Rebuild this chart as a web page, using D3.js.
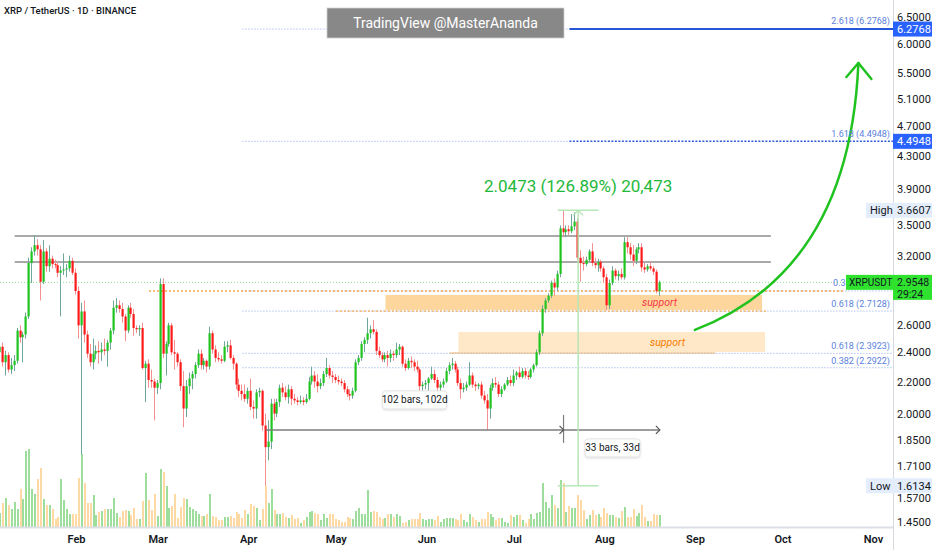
<!DOCTYPE html>
<html><head><meta charset="utf-8">
<script src="https://cdn.jsdelivr.net/npm/d3@7"></script>
<style>
body{margin:0;background:#fff;}
text{font-family:Roboto,"Liberation Sans",Arial,sans-serif;}
</style>
</head><body>
<svg id="c" width="932" height="550"></svg>
<script>
// ---------------- DATA ----------------
const startDate = "2025-01-06";
const opens = [2.40,2.44,2.33,2.38,2.28,2.31,2.34,2.56,2.51,2.53,
2.67,3.13,3.24,3.30,3.26,2.96,3.24,3.10,3.17,3.12,
3.11,3.04,3.06,3.07,3.08,3.15,3.04,2.88,2.60,2.71,
2.53,2.39,2.33,2.39,2.41,2.40,2.42,2.41,2.47,2.56,
2.74,2.76,2.73,2.67,2.56,2.74,2.69,2.58,2.57,2.58,
2.29,2.32,2.21,2.20,2.16,2.19,2.94,2.39,2.46,2.60,
2.40,2.39,2.33,2.17,2.03,2.17,2.22,2.25,2.31,2.39,
2.31,2.34,2.30,2.54,2.42,2.36,2.35,2.34,2.44,2.45,
2.36,2.32,2.18,2.14,2.12,2.09,2.14,2.04,2.03,2.13,
2.14,1.93,1.81,1.84,2.06,2.00,2.07,2.16,2.13,2.10,
2.15,2.09,2.08,2.07,2.08,2.07,2.09,2.20,2.24,2.20,
2.17,2.19,2.25,2.29,2.24,2.23,2.21,2.20,2.19,2.15,
2.12,2.11,2.14,2.33,2.36,2.46,2.49,2.54,2.57,2.55,
2.41,2.38,2.35,2.38,2.36,2.39,2.38,2.42,2.44,2.32,
2.29,2.34,2.33,2.30,2.28,2.17,2.18,2.19,2.22,2.25,
2.21,2.16,2.18,2.20,2.27,2.31,2.32,2.28,2.19,2.15,
2.16,2.18,2.24,2.18,2.17,2.18,2.11,2.08,2.03,2.16,
2.19,2.18,2.12,2.15,2.18,2.21,2.19,2.24,2.26,2.23,
2.27,2.24,2.23,2.28,2.31,2.40,2.54,2.73,2.80,2.84,
2.95,2.91,3.03,3.47,3.43,3.46,3.44,3.49,3.54,3.18,
3.13,3.12,3.16,3.24,3.13,3.11,3.14,3.08,3.00,2.76,
2.95,3.06,3.01,3.03,3.00,3.33,3.28,3.21,3.15,3.26,
3.28,3.09,3.07,3.10,3.08,3.05,2.88];
const highs = [2.48,2.47,2.41,2.40,2.36,2.38,2.58,2.60,2.55,2.70,
3.18,3.28,3.40,3.36,3.30,3.35,3.27,3.30,3.20,3.16,
3.14,3.10,3.22,3.12,3.20,3.18,3.08,2.92,2.78,2.80,
2.56,2.46,2.50,2.45,2.48,2.47,2.50,2.49,2.58,2.80,
2.82,2.80,2.78,2.69,2.76,2.78,2.73,2.60,2.60,2.62,
2.34,2.35,2.28,2.22,2.21,2.99,2.99,2.48,2.62,2.62,
2.49,2.40,2.35,2.27,2.21,2.26,2.27,2.33,2.42,2.42,
2.36,2.35,2.59,2.56,2.45,2.40,2.38,2.48,2.48,2.49,
2.38,2.33,2.22,2.18,2.18,2.16,2.22,2.08,2.15,2.16,
2.15,2.00,1.96,2.09,2.09,2.09,2.18,2.19,2.17,2.18,
2.17,2.12,2.10,2.11,2.10,2.12,2.23,2.30,2.27,2.25,
2.22,2.27,2.36,2.31,2.27,2.25,2.24,2.22,2.21,2.17,
2.15,2.16,2.35,2.38,2.48,2.51,2.66,2.60,2.64,2.57,
2.44,2.40,2.40,2.41,2.42,2.41,2.47,2.46,2.45,2.35,
2.36,2.37,2.35,2.34,2.29,2.20,2.21,2.23,2.30,2.28,
2.23,2.20,2.22,2.29,2.33,2.36,2.34,2.30,2.22,2.19,
2.20,2.33,2.26,2.20,2.19,2.20,2.14,2.12,2.18,2.22,
2.23,2.20,2.17,2.19,2.23,2.24,2.28,2.27,2.30,2.29,
2.29,2.27,2.29,2.32,2.42,2.56,2.76,2.82,2.86,2.97,
2.99,3.06,3.50,3.6607,3.50,3.50,3.62,3.64,3.57,3.25,
3.19,3.19,3.26,3.32,3.18,3.17,3.16,3.10,3.03,2.98,
3.10,3.08,3.06,3.08,3.38,3.38,3.32,3.30,3.28,3.32,
3.32,3.13,3.12,3.14,3.10,3.07,2.97];
const lows = [2.37,2.30,2.24,2.26,2.25,2.27,2.32,2.47,2.33,2.50,
2.65,2.95,3.20,3.20,2.80,2.94,3.05,3.05,3.08,3.08,
3.00,2.67,3.02,3.00,3.05,3.02,2.85,2.50,1.77,2.47,
2.36,2.30,2.28,2.35,2.32,2.34,2.38,2.30,2.42,2.53,
2.70,2.70,2.62,2.48,2.54,2.66,2.52,2.54,2.52,2.28,
2.07,2.16,2.16,1.96,2.12,2.15,2.36,2.24,2.44,2.38,
2.28,2.30,2.14,1.92,1.98,2.12,2.15,2.22,2.29,2.28,
2.28,2.26,2.28,2.39,2.33,2.33,2.32,2.33,2.40,2.35,
2.28,2.15,2.10,2.08,2.07,2.06,2.02,1.97,1.97,2.10,
1.90,1.6134,1.74,1.80,1.96,1.98,2.04,2.10,2.08,2.06,
2.05,2.06,2.05,2.06,2.05,2.06,2.08,2.18,2.16,2.13,
2.15,2.17,2.23,2.22,2.19,2.19,2.18,2.17,2.13,2.10,
2.08,2.09,2.13,2.31,2.34,2.40,2.46,2.50,2.53,2.38,
2.36,2.33,2.33,2.30,2.33,2.34,2.36,2.38,2.30,2.27,
2.28,2.29,2.27,2.26,2.12,2.14,2.15,2.14,2.21,2.19,
2.09,2.13,2.16,2.19,2.25,2.28,2.26,2.17,2.09,2.13,
2.14,2.17,2.16,2.14,2.15,2.09,2.06,1.905,1.97,2.14,
2.16,2.10,2.10,2.14,2.17,2.17,2.17,2.21,2.22,2.22,
2.22,2.21,2.22,2.26,2.30,2.38,2.52,2.70,2.78,2.82,
2.84,2.88,3.00,3.38,3.38,3.40,3.42,3.45,3.16,2.96,
3.06,3.10,3.14,3.10,3.08,3.05,3.05,2.95,2.72,2.73,
2.93,2.98,2.97,2.98,2.98,3.22,3.16,3.10,3.12,3.22,
3.05,3.04,3.05,3.06,3.02,2.86,2.84];
const closes = [2.44,2.33,2.38,2.28,2.31,2.34,2.56,2.51,2.53,2.67,
3.13,3.24,3.30,3.26,2.96,3.24,3.10,3.17,3.12,3.11,
3.04,3.06,3.07,3.08,3.15,3.04,2.88,2.60,2.71,2.53,
2.39,2.33,2.39,2.41,2.40,2.42,2.41,2.47,2.56,2.74,
2.76,2.73,2.67,2.56,2.74,2.69,2.58,2.57,2.58,2.29,
2.32,2.21,2.20,2.16,2.19,2.94,2.39,2.46,2.60,2.40,
2.39,2.33,2.17,2.03,2.17,2.22,2.25,2.31,2.39,2.31,
2.34,2.30,2.54,2.42,2.36,2.35,2.34,2.44,2.45,2.36,
2.32,2.18,2.14,2.12,2.09,2.14,2.04,2.03,2.13,2.14,
1.93,1.81,1.84,2.06,2.00,2.07,2.16,2.13,2.10,2.15,
2.09,2.08,2.07,2.08,2.07,2.09,2.20,2.24,2.20,2.17,
2.19,2.25,2.29,2.24,2.23,2.21,2.20,2.19,2.15,2.12,
2.11,2.14,2.33,2.36,2.46,2.49,2.54,2.57,2.55,2.41,
2.38,2.35,2.38,2.36,2.39,2.38,2.42,2.44,2.32,2.29,
2.34,2.33,2.30,2.28,2.17,2.18,2.19,2.22,2.25,2.21,
2.16,2.18,2.20,2.27,2.31,2.32,2.28,2.19,2.15,2.16,
2.18,2.24,2.18,2.17,2.18,2.11,2.08,2.03,2.16,2.19,
2.18,2.12,2.15,2.18,2.21,2.19,2.24,2.26,2.23,2.27,
2.24,2.23,2.28,2.31,2.40,2.54,2.73,2.80,2.84,2.95,
2.91,3.03,3.47,3.43,3.46,3.44,3.49,3.54,3.18,3.13,
3.12,3.16,3.24,3.13,3.11,3.14,3.08,3.00,2.76,2.95,
3.06,3.01,3.03,3.00,3.33,3.28,3.21,3.15,3.26,3.28,
3.09,3.07,3.10,3.08,3.05,2.88,2.9548];
// volume, in units of 10M
const volumes = [14,24,29,22,18,25,18,38,28,76,
78,38,33,48,59,28,22,22,18,8,
10,48,27,18,13,13,13,49,73,44,
24,24,32,12,15,16,18,18,18,29,
14,10,16,17,16,12,19,8,8,26,
54,27,17,33,11,58,55,41,19,21,
33,9,20,29,28,20,18,16,13,11,
11,13,33,11,10,7,7,10,10,11,
9,15,13,9,17,13,23,21,19,7,
18,41,24,38,17,13,13,14,10,9,
12,8,9,4,7,10,15,16,14,13,
7,13,9,13,13,8,7,5,5,10,
9,8,16,19,13,13,37,15,16,15,
10,8,9,13,13,10,13,11,4,5,
7,8,8,8,14,8,7,8,8,7,
11,5,8,9,9,9,8,7,13,7,
5,13,10,7,5,8,8,15,13,10,
7,9,9,5,4,12,10,12,12,7,
4,8,13,8,14,15,44,25,19,32,
22,19,47,44,15,21,19,19,32,27,
17,8,12,17,12,13,10,19,14,12,
12,10,9,16,20,10,10,18,11,14,
22,10,6,6,13,12,12];

const priceTicks = [6.5,6.0,5.5,5.1,4.7,4.3,3.9,3.5,3.2,2.6,2.4,2.2,2.0,1.85,1.71,1.57,1.45];
const monthTicks = ["2025-02-01","2025-03-01","2025-04-01","2025-05-01","2025-06-01","2025-07-01","2025-08-01","2025-09-01","2025-10-01","2025-11-01"];
const resistanceLevels = [3.392, 3.139];
const fibLabels = ["2.618 (6.2768)","1.618 (4.4948)","0.38","0.618 (2.7128)","0.618 (2.3923)","0.382 (2.2922)"];
const fibPrices = [6.2768,4.4948,2.880,2.7128,2.3923,2.2922];
const lastPrice = 2.9548;
const rangeHigh = 3.6607, rangeLow = 1.6134;
const measureLevel = 1.905;
const measureDates = ["2025-04-07","2025-07-18","2025-08-20"];
const measureLabels = ["102 bars, 102d","33 bars, 33d"];
const supportZones = [["2025-05-18","2025-09-24",2.846,2.722],["2025-06-12","2025-09-25",2.549,2.402]];
const arrowDates = ["2025-09-01","2025-10-24","2025-10-27"];
const arrowPrices = [2.565,3.064,5.674];

// ---------------- CHART ----------------
const svg = d3.select("#c");
const W = 932, H = 550, plotR = 893, volBase = 527;
const parse = d3.utcParse("%Y-%m-%d");
const start = parse(startDate);
const dates = opens.map((_, i) => d3.utcDay.offset(start, i));
const x = d3.scaleUtc().domain([parse("2025-02-01"), parse("2025-11-01")]).range([76, 873]);
const y = d3.scaleLog().domain([1.45, 6.5]).range([521.7, 17.3]);
const yv = d3.scaleLinear().domain([0, 80]).range([volBase, volBase - 80]);

svg.append("rect").attr("width", W).attr("height", H).attr("fill", "#fff");
svg.append("defs").append("clipPath").attr("id", "plot")
  .append("rect").attr("x", 0).attr("y", 0).attr("width", plotR).attr("height", volBase);
const g = svg.append("g").attr("clip-path", "url(#plot)");

const xd = s => x(parse(s));
const hline = (x1, x2, p, stroke, w, dash) => g.append("line")
  .attr("x1", x1).attr("x2", x2).attr("y1", y(p)).attr("y2", y(p))
  .attr("stroke", stroke).attr("stroke-width", w).attr("stroke-dasharray", dash || null);

// support zones
g.append("rect").attr("x", xd(supportZones[0][0])).attr("width", xd(supportZones[0][1]) - xd(supportZones[0][0]))
  .attr("y", y(supportZones[0][2])).attr("height", y(supportZones[0][3]) - y(supportZones[0][2]))
  .attr("fill", "#fdd294").attr("opacity", 0.9);
g.append("rect").attr("x", xd(supportZones[1][0])).attr("width", xd(supportZones[1][1]) - xd(supportZones[1][0]))
  .attr("y", y(supportZones[1][2])).attr("height", y(supportZones[1][3]) - y(supportZones[1][2]))
  .attr("fill", "#ffe7c4").attr("opacity", 0.95);
g.append("line").attr("x1", xd("2025-06-09")).attr("x2", xd("2025-09-08"))
  .attr("y1", y(supportZones[1][3]) + 1).attr("y2", y(supportZones[1][3]) + 1)
  .attr("stroke", "#f5b155").attr("stroke-width", 1.2);

// fib lines
const fibStart = xd("2025-03-30"), fibBreak = xd("2025-07-20");
fibPrices.forEach((p, i) => {
  if (i < 2) {
    hline(fibStart, fibBreak, p, "#8ea6ea", 1, "1,2");
    if (i === 0) hline(fibBreak, plotR, p, "#2757d6", 2);
    else hline(fibBreak, plotR, p, "#2d5bd8", 1.6, "2,1.5");
  } else {
    hline(fibStart, plotR, p, "#8ea6ea", 1, "1,2");
  }
});

// orange dotted levels
hline(xd("2025-02-26"), 845, fibPrices[2], "#f7a948", 1.4, "2,2");
hline(xd("2025-05-01"), xd("2025-09-26"), fibPrices[3], "#f7a948", 1.4, "2,2");

// resistance lines
resistanceLevels.forEach(p => hline(xd("2025-01-11"), xd("2025-09-27"), p, "#8c8c8c", 1.5));

// current price line
hline(0, 845, lastPrice, "#8fe08f", 1, "1,2");

// volume
g.append("g").selectAll("rect").data(volumes).join("rect")
  .attr("x", (d, i) => Math.round(x(dates[i])) - 0.8)
  .attr("width", 1.6)
  .attr("y", d => yv(d))
  .attr("height", d => volBase - yv(d))
  .attr("fill", (d, i) => closes[i] >= opens[i] ? "#86d686" : "#ffd08e");

// candles
const cg = g.append("g");
dates.forEach((d, i) => {
  const cx = Math.round(x(d));
  const up = closes[i] >= opens[i];
  const hi = Math.max(highs[i], opens[i], closes[i]);
  const lo = Math.min(lows[i], opens[i], closes[i]);
  cg.append("line").attr("x1", cx - 0.5).attr("x2", cx - 0.5)
    .attr("y1", y(hi)).attr("y2", y(lo))
    .attr("stroke", up ? "#6fa59b" : "#f39090").attr("stroke-width", 1);
  const t = y(Math.max(opens[i], closes[i])), b = y(Math.min(opens[i], closes[i]));
  cg.append("rect").attr("x", cx - 1.5).attr("width", 2.2)
    .attr("y", t).attr("height", Math.max(1, b - t))
    .attr("fill", up ? "#1fc41f" : "#ff1a1a");
});

// bars measure tool
const my = y(measureLevel);
const m0 = xd(measureDates[0]), m1 = xd(measureDates[1]), m2 = xd(measureDates[2]);
g.append("line").attr("x1", m0).attr("x2", m2).attr("y1", my).attr("y2", my).attr("stroke", "#7d7d7d").attr("stroke-width", 1.5);
g.append("line").attr("x1", m1).attr("x2", m1).attr("y1", my - 15).attr("y2", my + 13).attr("stroke", "#7d7d7d").attr("stroke-width", 1.2);
[m1, m2].forEach(mx => g.append("path").attr("d", `M${mx - 4},${my - 4}L${mx},${my}L${mx - 4},${my + 4}`)
  .attr("fill", "none").attr("stroke", "#555").attr("stroke-width", 1.2));
function labelBox(cx, cy, txt, w) {
  g.append("rect").attr("x", cx - w / 2).attr("y", cy - 9).attr("width", w).attr("height", 18).attr("rx", 3)
    .attr("fill", "#fff").attr("stroke", "#e4e4e4").attr("stroke-width", 1)
    .style("filter", "drop-shadow(0px 1px 1px rgba(0,0,0,0.12))");
  g.append("text").attr("x", cx).attr("y", cy + 3.5).attr("text-anchor", "middle")
    .attr("font-size", 10).attr("fill", "#131722").text(txt);
}
labelBox((m0 + m1) / 2, my - 30, measureLabels[0], 64);
labelBox(m1 + 49, my + 18, measureLabels[1], 55);

// price range tool (green)
const rx = xd("2025-07-23");
const ry1 = y(rangeHigh), ry2 = y(rangeLow);
const rg = "#b6e7b6";
g.append("line").attr("x1", rx).attr("x2", rx).attr("y1", ry1).attr("y2", ry2).attr("stroke", rg).attr("stroke-width", 1.5);
[ry1, ry2].forEach(yy => g.append("line").attr("x1", xd("2025-07-16")).attr("x2", xd("2025-07-30"))
  .attr("y1", yy).attr("y2", yy).attr("stroke", rg).attr("stroke-width", 1.5));
g.append("path").attr("d", `M${rx - 5},${ry1 + 5}L${rx},${ry1}L${rx + 5},${ry1 + 5}`).attr("fill", "none").attr("stroke", rg).attr("stroke-width", 1.3);
svg.append("text").attr("x", rx).attr("y", ry1 - 18).attr("text-anchor", "middle")
  .attr("font-size", 17).attr("fill", "#1fb83a").text("2.0473 (126.89%) 20,473");

// support labels
svg.append("text").attr("x", 642).attr("y", y(2.784) + 3.5).attr("font-size", 10.5).attr("font-style", "italic")
  .attr("fill", "#f23645").text("support");
svg.append("text").attr("x", 650).attr("y", y(2.472) + 3.5).attr("font-size", 10.5).attr("font-style", "italic")
  .attr("fill", "#f57c00").text("support");

// green arrow
const ap = d3.path();
const ax0 = xd(arrowDates[0]), ay0 = y(arrowPrices[0]);
const axc = xd(arrowDates[1]), ayc = y(arrowPrices[1]);
const ax1 = xd(arrowDates[2]), ay1 = y(arrowPrices[2]);
ap.moveTo(ax0, ay0); ap.quadraticCurveTo(axc, ayc, ax1, ay1);
svg.append("path").attr("d", ap.toString()).attr("fill", "none").attr("stroke", "#1fc21f").attr("stroke-width", 2.5).attr("stroke-linecap", "round");
svg.append("path").attr("d", `M${ax1 - 12},${ay1 + 14}L${ax1},${ay1}L${ax1 + 13},${ay1 + 16}`)
  .attr("fill", "none").attr("stroke", "#1fc21f").attr("stroke-width", 2.5).attr("stroke-linecap", "round").attr("stroke-linejoin", "round");

// fib labels
const fibOffset = [-5, -4, -5, -4, -4, -4];
fibPrices.forEach((p, i) => svg.append("text").attr("x", i === 2 ? 833 : 890).attr("y", y(p) + fibOffset[i])
  .attr("text-anchor", i === 2 ? "start" : "end").attr("font-size", 9).attr("fill", "#5b7fdc").text(fibLabels[i]));

// watermark
svg.append("rect").attr("x", 327).attr("y", 8).attr("width", 237).attr("height", 30)
  .attr("fill", "#7f7f7f").attr("fill-opacity", 0.93).attr("stroke", "#cfcfcf").attr("stroke-width", 0.8);
svg.append("text").attr("x", 445.5).attr("y", 28).attr("text-anchor", "middle")
  .attr("font-size", 14).attr("fill", "#fff").text("TradingView @MasterAnanda");

// title
svg.append("text").attr("x", 4).attr("y", 14).attr("font-size", 9.5).attr("font-weight", 500)
  .attr("fill", "#131722").text("XRP / TetherUS · 1D · BINANCE");

// axes
svg.append("line").attr("x1", 0).attr("x2", plotR).attr("y1", volBase + 0.5).attr("y2", volBase + 0.5)
  .attr("stroke", "#dcdfe6").attr("stroke-width", 2);
svg.append("line").attr("x1", plotR + 0.5).attr("x2", plotR + 0.5).attr("y1", 0).attr("y2", H)
  .attr("stroke", "#d6d9e0").attr("stroke-width", 1);

const xa = svg.append("g").attr("transform", `translate(0,${volBase})`)
  .call(d3.axisBottom(x).tickValues(monthTicks.map(parse)).tickFormat(d3.utcFormat("%b")).tickSize(0).tickPadding(8));
xa.select(".domain").remove();
xa.selectAll("text").attr("font-size", 11).attr("font-weight", 600).attr("fill", "#131722")
  .style("font-family", "Roboto, 'Liberation Sans', Arial, sans-serif");

const ya = svg.append("g").attr("transform", `translate(${plotR},0)`)
  .call(d3.axisRight(y).tickValues(priceTicks).tickFormat(d3.format(".4f")).tickSize(0).tickPadding(4));
ya.select(".domain").remove();
ya.selectAll("text").attr("font-size", 11).attr("fill", "#131722")
  .style("font-family", "Roboto, 'Liberation Sans', Arial, sans-serif");
// the 1.5700 label sits partly under the Low box in the reference: nudge it down a little
ya.selectAll(".tick").filter(d => d === 1.57).select("text").attr("dy", "0.55em");

// axis highlight boxes
function axisBox(p, bg, fg, label, h) {
  const cy = y(p);
  svg.append("rect").attr("x", plotR).attr("y", cy - h / 2).attr("width", W - plotR).attr("height", h).attr("fill", bg);
  svg.append("text").attr("x", plotR + 4).attr("y", cy + 4).attr("font-size", 11).attr("fill", fg).text(label);
}
axisBox(fibPrices[0], "#2962ff", "#fff", "6.2768", 15);
axisBox(fibPrices[1], "#2962ff", "#fff", "4.4948", 15);

function hlBox(p, name) {
  const cy = y(p);
  svg.append("rect").attr("x", 866).attr("y", cy - 7.5).attr("width", W - 866).attr("height", 15).attr("fill", "#e3edfc");
  svg.append("text").attr("x", 870).attr("y", cy + 4).attr("font-size", 11).attr("fill", "#131722").text(name);
  svg.append("text").attr("x", plotR + 4).attr("y", cy + 4).attr("font-size", 11).attr("fill", "#131722").text(d3.format(".4f")(p));
}
hlBox(rangeHigh, "High");
hlBox(rangeLow, "Low");

// last price label
const ly = y(lastPrice);
svg.append("rect").attr("x", 846).attr("y", ly - 7.5).attr("width", plotR - 846).attr("height", 15).attr("fill", "#2ee22e");
svg.append("text").attr("x", 849).attr("y", ly + 4).attr("font-size", 10).attr("fill", "#131722").text("XRPUSDT");
svg.append("rect").attr("x", plotR).attr("y", ly - 7.5).attr("width", W - plotR).attr("height", 25).attr("fill", "#2ee22e");
svg.append("text").attr("x", plotR + 4).attr("y", ly + 3.5).attr("font-size", 10.5).attr("fill", "#131722").text(d3.format(".4f")(lastPrice));
svg.append("text").attr("x", plotR + 4).attr("y", ly + 15.5).attr("font-size", 10.5).attr("fill", "#131722").text("29:24");
</script>
</body></html>
